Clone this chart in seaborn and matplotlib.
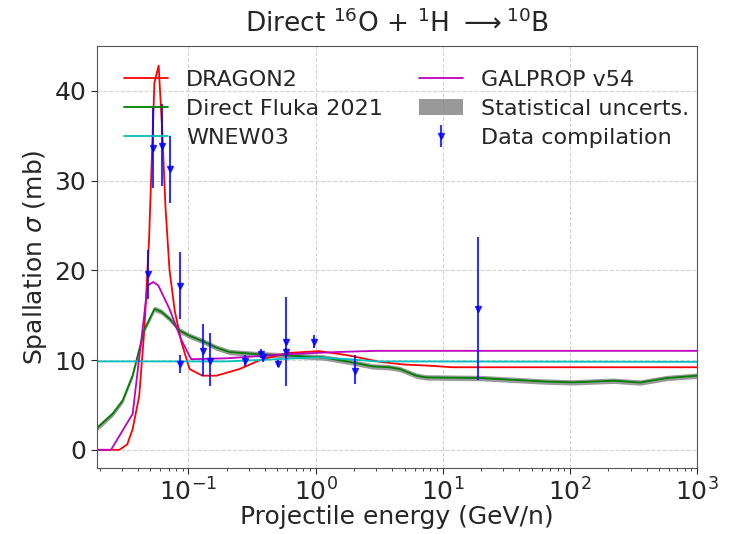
import numpy as np
import pandas as pd
import matplotlib
matplotlib.use("Agg")
import matplotlib.pyplot as plt
import seaborn as sns

# DRAGON2
dragon_E = [0.019, 0.0286, 0.0330, 0.0364, 0.041, 0.045, 0.049, 0.054, 0.0583, 0.062,
            0.066, 0.071, 0.078, 0.088, 0.102, 0.129, 0.166, 0.252, 0.38, 0.62, 1.07,
            1.85, 3.2, 5.0, 7.9, 12.0, 1000.0]
dragon_s = [0.0, 0.0, 0.6, 2.3, 6.0, 13.4, 23.4, 40.9, 42.8, 36.0,
            27.0, 20.0, 15.5, 12.0, 9.0, 8.26, 8.26, 9.0, 10.1, 10.8, 11.0,
            10.5, 9.8, 9.5, 9.37, 9.2, 9.2]

# GALPROP v54
galprop_E = [0.019, 0.0246, 0.0364, 0.0478, 0.053, 0.058, 0.0709, 0.0875, 0.105,
             0.2, 0.62, 1.5, 3.0, 1000.0]
galprop_s = [0.0, 0.0, 4.0, 18.3, 18.7, 18.3, 15.7, 12.3, 10.1,
             10.2, 10.67, 10.9, 11.03, 11.03]

# WNEW03
wnew_E = [0.019, 0.2, 0.5, 1.0, 1.8, 3.0, 1000.0]
wnew_s = [9.85, 9.85, 10.1, 10.3, 10.1, 9.85, 9.8]

# Direct Fluka 2021
fluka_E = [0.019, 0.0253, 0.0304, 0.0364, 0.045, 0.054, 0.061, 0.071, 0.085, 0.102,
           0.13, 0.165, 0.21, 0.34, 0.62, 1.14, 1.85, 2.8, 3.8, 4.6,
           6.2, 7.4, 19.6, 35.6, 65.0, 106.0, 219.0, 357.0, 578.0, 1000.0]
fluka_s = [2.4, 4.0, 5.5, 8.3, 13.4, 15.7, 15.4, 14.6, 13.3, 12.7,
           12.1, 11.4, 10.9, 10.67, 10.5, 10.3, 9.8, 9.3, 9.2, 9.0,
           8.26, 8.07, 8.0, 7.8, 7.6, 7.52, 7.7, 7.5, 8.0, 8.26]
fluka_err = 0.3

# Data compilation
data_E = [0.0481, 0.0524, 0.062, 0.0722, 0.086, 0.086, 0.131, 0.149, 0.279, 0.375,
          0.385, 0.505, 0.58, 0.58, 0.98, 2.05, 18.8]
data_s = [19.6, 33.6, 33.8, 31.3, 18.3, 9.56, 11.0, 9.93, 9.85, 10.7,
          10.3, 9.56, 12.0, 10.85, 12.0, 8.8, 15.7]
data_lo = [2.8, 4.4, 4.4, 3.8, 3.7, 1.0, 2.75, 2.85, 0.5, 0.5,
           0.5, 0.37, 4.9, 0.5, 0.6, 1.45, 7.9]
data_hi = [2.7, 4.5, 4.7, 3.7, 3.7, 1.05, 3.0, 3.05, 0.75, 0.5,
           0.5, 0.44, 5.0, 0.5, 0.8, 1.75, 8.0]

sns.set_style("white")
plt.rcParams["font.family"] = ["DejaVu Sans"]

fig = plt.figure(figsize=(7.44, 5.34), dpi=100)
ax = fig.add_axes([0.130, 0.124, 0.807, 0.790])

ax.fill_between(fluka_E, np.array(fluka_s) - fluka_err, np.array(fluka_s) + fluka_err,
                color="gray", alpha=0.8, lw=0, label="Statistical uncerts.")

sns.lineplot(x=dragon_E, y=dragon_s, ax=ax, color="red", lw=1.3, label="DRAGON2")
sns.lineplot(x=fluka_E, y=fluka_s, ax=ax, color="green", lw=1.3, label="Direct Fluka 2021")
sns.lineplot(x=wnew_E, y=wnew_s, ax=ax, color="c", lw=1.3, label="WNEW03")
sns.lineplot(x=galprop_E, y=galprop_s, ax=ax, color="m", lw=1.3, label="GALPROP v54")

ax.errorbar(data_E, data_s, yerr=[data_lo, data_hi], fmt="v", color="blue",
            ms=4, elinewidth=1.5, label="Data compilation", alpha=0.8)

ax.set_xscale("log")
ax.set_xlim(0.019, 1000)
ax.set_ylim(-2, 45)
ax.grid(True, ls="--", color="lightgray", lw=0.8)
for s in ax.spines.values():
    s.set_color("#555555")
ax.tick_params(axis="both", which="major", labelsize=18, length=4, direction="out",
               bottom=True, left=True)
ax.tick_params(axis="x", which="minor", bottom=True, length=2)
ax.set_yticks([0, 10, 20, 30, 40])

ax.set_xlabel("Projectile energy (GeV/n)", fontsize=18, labelpad=0)
ax.set_ylabel(r"Spallation $\sigma$ (mb)", fontsize=18)
ax.set_title(r"Direct $^{16}$O + $^{1}$H $\longrightarrow$$^{10}$B", fontsize=19, pad=10)

h, l = ax.get_legend_handles_labels()
order = ["DRAGON2", "Direct Fluka 2021", "WNEW03", "GALPROP v54",
         "Statistical uncerts.", "Data compilation"]
hd = dict(zip(l, h))
ax.legend([hd[k] for k in order], order, ncol=2, loc="upper left",
          bbox_to_anchor=(0.012, 0.99), frameon=False, fontsize=16,
          handlelength=2.0, columnspacing=1.6, labelspacing=0.4)

fig.savefig("out.png", dpi=100)
